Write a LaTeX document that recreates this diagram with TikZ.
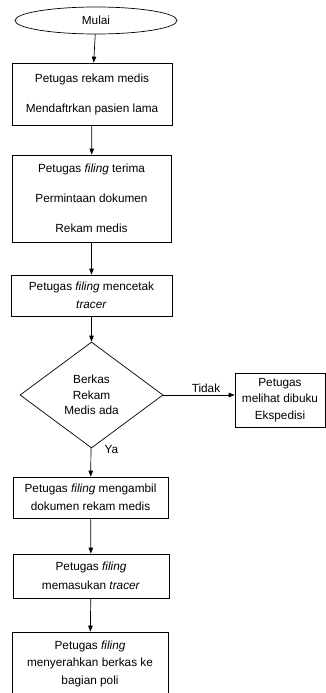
\documentclass[tikz,border=0pt]{standalone}
\usepackage{fontspec}
\setmainfont{Liberation Sans}
\usetikzlibrary{shapes,arrows.meta,positioning}

\begin{document}
\begin{tikzpicture}[x=1pt, y=-1pt,
    every node/.style={font=\fontsize{11.8}{18}\selectfont},
    box/.style={rectangle, draw, line width=0.7pt, align=center, inner sep=0pt},
    terminal/.style={ellipse, draw, line width=0.7pt, minimum width=162pt, minimum height=27pt, inner sep=0pt},
    decision/.style={diamond, draw, line width=0.7pt, aspect=1.35, minimum width=143pt, minimum height=106pt, inner sep=0pt, align=center},
    arrow/.style={-{Triangle[length=6pt,width=4.5pt]}, line width=0.7pt}
]
    \useasboundingbox (0,0) rectangle (326,693);

    % Mulai
    \node[terminal] (mulai) at (96,20.5) {Mulai};

    % Pendaftaran
    \node[box, minimum width=160pt, minimum height=62pt] (daftar) at (92,94) {
        Petugas rekam medis\\[12pt]
        Mendaftrkan pasien lama
    };

    % Permintaan
    \node[box, minimum width=159pt, minimum height=87pt] (terima) at (91.5,198.5) {
        Petugas \textit{filing} terima\\[12pt]
        Permintaan dokumen\\[12pt]
        Rekam medis
    };

    % Tracer
    \node[box, minimum width=161pt, minimum height=41pt] (cetak) at (91.5,295.5) {
        Petugas \textit{filing} mencetak\\
        \textit{tracer}
    };

    % Keputusan
    \node[decision] (cek) at (91.5,395) {
        Berkas\\[-2.5pt]
        Rekam\\[-2.5pt]
        Medis ada
    };

    % Ekspedisi
    \node[box, minimum width=90pt, minimum height=54pt] (ekspedisi) at (280,400) {
        Petugas\\[-1.5pt]
        melihat dibuku\\[-1.5pt]
        Ekspedisi
    };

    % Ambil dokumen
    \node[box, minimum width=155pt, minimum height=41pt] (ambil) at (90.5,497.5) {
        Petugas \textit{filing} mengambil\\
        dokumen rekam medis
    };

    % Tracer masuk
    \node[box, minimum width=156pt, minimum height=44pt] (masuk) at (91,576) {
        Petugas \textit{filing}\\[1pt]
        memasukan \textit{tracer}
    };

    % Serahkan
    \node[box, minimum width=156pt, minimum height=63pt] (serah) at (90,663.5) {
        Petugas \textit{filing}\\[-0.5pt]
        menyerahkan berkas ke\\[-0.5pt]
        bagian poli
    };

    \draw[arrow] (mulai) -- (daftar);
    \draw[arrow] (daftar) -- (terima);
    \draw[arrow] (terima) -- (cetak);
    \draw[arrow] (cetak) -- (cek);
    \draw[arrow] (cek.east) -- (cek.east -| ekspedisi.west);
    \draw[arrow] (cek) -- (ambil);
    \draw[arrow] (ambil) -- (masuk);
    \draw[arrow] (masuk) -- (serah);

    % Label
    \node[anchor=base, inner sep=0pt] (tidak) at (206,392) {Tidak};
    \node[anchor=base, inner sep=0pt] (ya) at (111.5,453) {Ya};
\end{tikzpicture}
\end{document}
